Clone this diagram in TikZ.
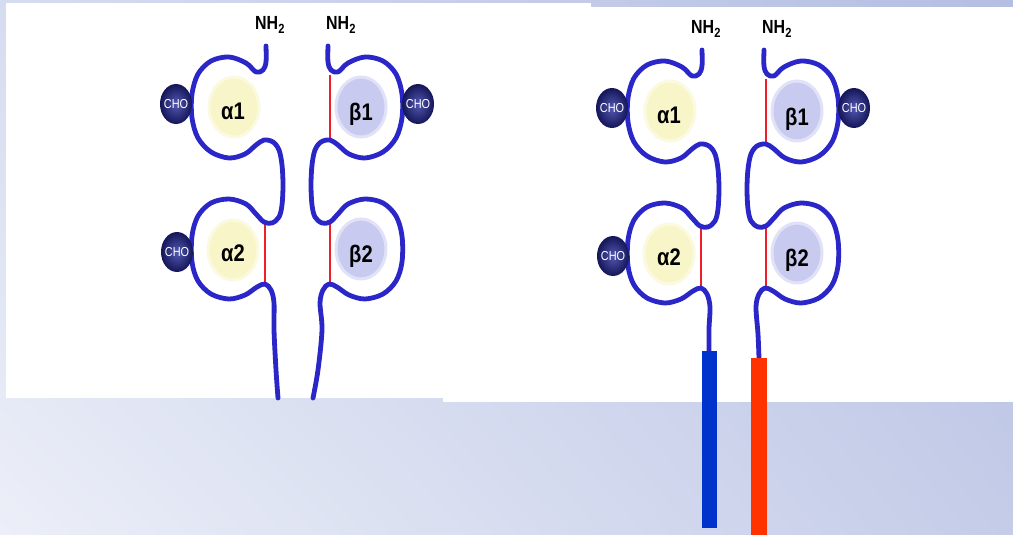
\documentclass[tikz,border=0pt]{standalone}
\usepackage{fontspec}
\setmainfont[FakeStretch=0.84]{Liberation Sans}
\usepackage{tikz}
\usetikzlibrary{positioning,shapes.geometric,shadings}

\definecolor{chainblue}{RGB}{42,38,200}
\definecolor{bondred}{RGB}{240,30,40}
\definecolor{alphafill}{RGB}{248,246,200}
\definecolor{betafill}{RGB}{200,202,240}
\definecolor{choinner}{RGB}{84,88,176}
\definecolor{choouter}{RGB}{20,22,88}
\definecolor{tmblue}{RGB}{0,51,204}
\definecolor{tmred}{RGB}{255,51,0}
\definecolor{slideLL}{RGB}{236,239,248}
\definecolor{slideLR}{RGB}{196,204,232}
\definecolor{slideUL}{RGB}{214,220,240}
\definecolor{slideUR}{RGB}{180,190,226}

\tikzset{
	peptide/.style={draw=chainblue, line width=4.8pt, line cap=round, line join=round},
	ssbond/.style={draw=bondred, line width=1.3pt},
	alphadom/.style={ellipse, fill=alphafill, draw=alphafill!55!white, line width=3pt,
		minimum width=50pt, minimum height=60pt, inner sep=0pt},
	betadom/.style={alphadom, fill=betafill, draw=betafill!55!white},
	domlabel/.style={font=\fontsize{24}{24}\selectfont\bfseries, anchor=base, inner sep=0pt},
	cho/.style={ellipse, inner sep=0pt, minimum width=32pt, minimum height=40pt,
		inner color=choinner, outer color=choouter, text=white, font=\fontsize{13}{13}\selectfont},
	nterm/.style={font=\fontsize{19}{19}\selectfont\bfseries, anchor=base west, inner sep=0pt},
}

% one chain: N-terminal hook, two loops, then the tail given in #1
\newcommand{\chainpath}[1]{%
	\draw[peptide] plot[smooth, tension=0.55] coordinates {
		(266,46) (266,62) (263,70) (256,72) (246,63) (229,57) (211,61) (198,74) (192,94)
		(192,118) (198,138) (211,152) (229,158) (245,154) (256,145) (264,140) (273,142)
		(279,150) (282,165) (283,185) (282,205) (279,217) (272,223) (264,222) (256,214)
		(246,204) (229,199) (211,203) (198,216) (192,236) (192,262) (198,281) (211,294)
		(229,299) (245,295) (257,287) (265,284) (271,290) (274,303) #1};}

% alpha/beta pair: #1 name prefix, #2 alpha tail, #3 beta tail
\newcommand{\dimer}[3]{%
	\node[alphadom] (#1a1) at (234,107) {};
	\node[alphadom] (#1a2) at (233,250) {};
	\node[betadom] (#1b1) at (361,107) {};
	\node[betadom] (#1b2) at (361,249) {};
	\draw[ssbond] (265,223) -- (265,284);
	\chainpath{#2}
	% beta chain is the mirror image
	\begin{scope}[shift={(594,0)}, xscale=-1]
		\draw[ssbond] (264,75) -- (264,139);
		\draw[ssbond] (264,223) -- (264,284);
		\chainpath{#3}
	\end{scope}
	\node[domlabel] (#1la1) at (233,120) {α1};
	\node[domlabel] (#1la2) at (233,261) {α2};
	\node[domlabel] (#1lb1) at (361,121) {β1};
	\node[domlabel] (#1lb2) at (361,262) {β2};
	\node[cho] (#1c1) at (176,104) {\makebox[0pt]{CHO}};
	\node[cho] (#1c2) at (418,104) {\makebox[0pt]{CHO}};
	\node[cho] (#1c3) at (177,252) {\makebox[0pt]{CHO}};
	\node[nterm] (#1n1) at (255,30) {NH\textsubscript{2}};
	\node[nterm] (#1n2) at (326,30) {NH\textsubscript{2}};
}

\begin{document}
\begin{tikzpicture}[x=1pt, y=-1pt]
	\useasboundingbox (0,0) rectangle (1013,535);
	\shade[lower left=slideLL, lower right=slideLR, upper left=slideUL, upper right=slideUR]
		(0,0) rectangle (1013,535);
	% white panels
	\fill[white] (6,3) rectangle (591,398);
	\fill[white] (443,7) rectangle (1013,402);

	% soluble form
	\dimer{L}{(274,330) (276,370) (278,398)}{(272,330) (276,370) (281,398)}

	% membrane-anchored form
	\begin{scope}[shift={(436,4)}]
		\dimer{R}{(273,325) (273,347)}{(272,330) (271,354)}
		\fill[tmblue] (266,347) rectangle (281,524);
		\fill[tmred] (315,354) rectangle (331,531);
	\end{scope}
\end{tikzpicture}
\end{document}
